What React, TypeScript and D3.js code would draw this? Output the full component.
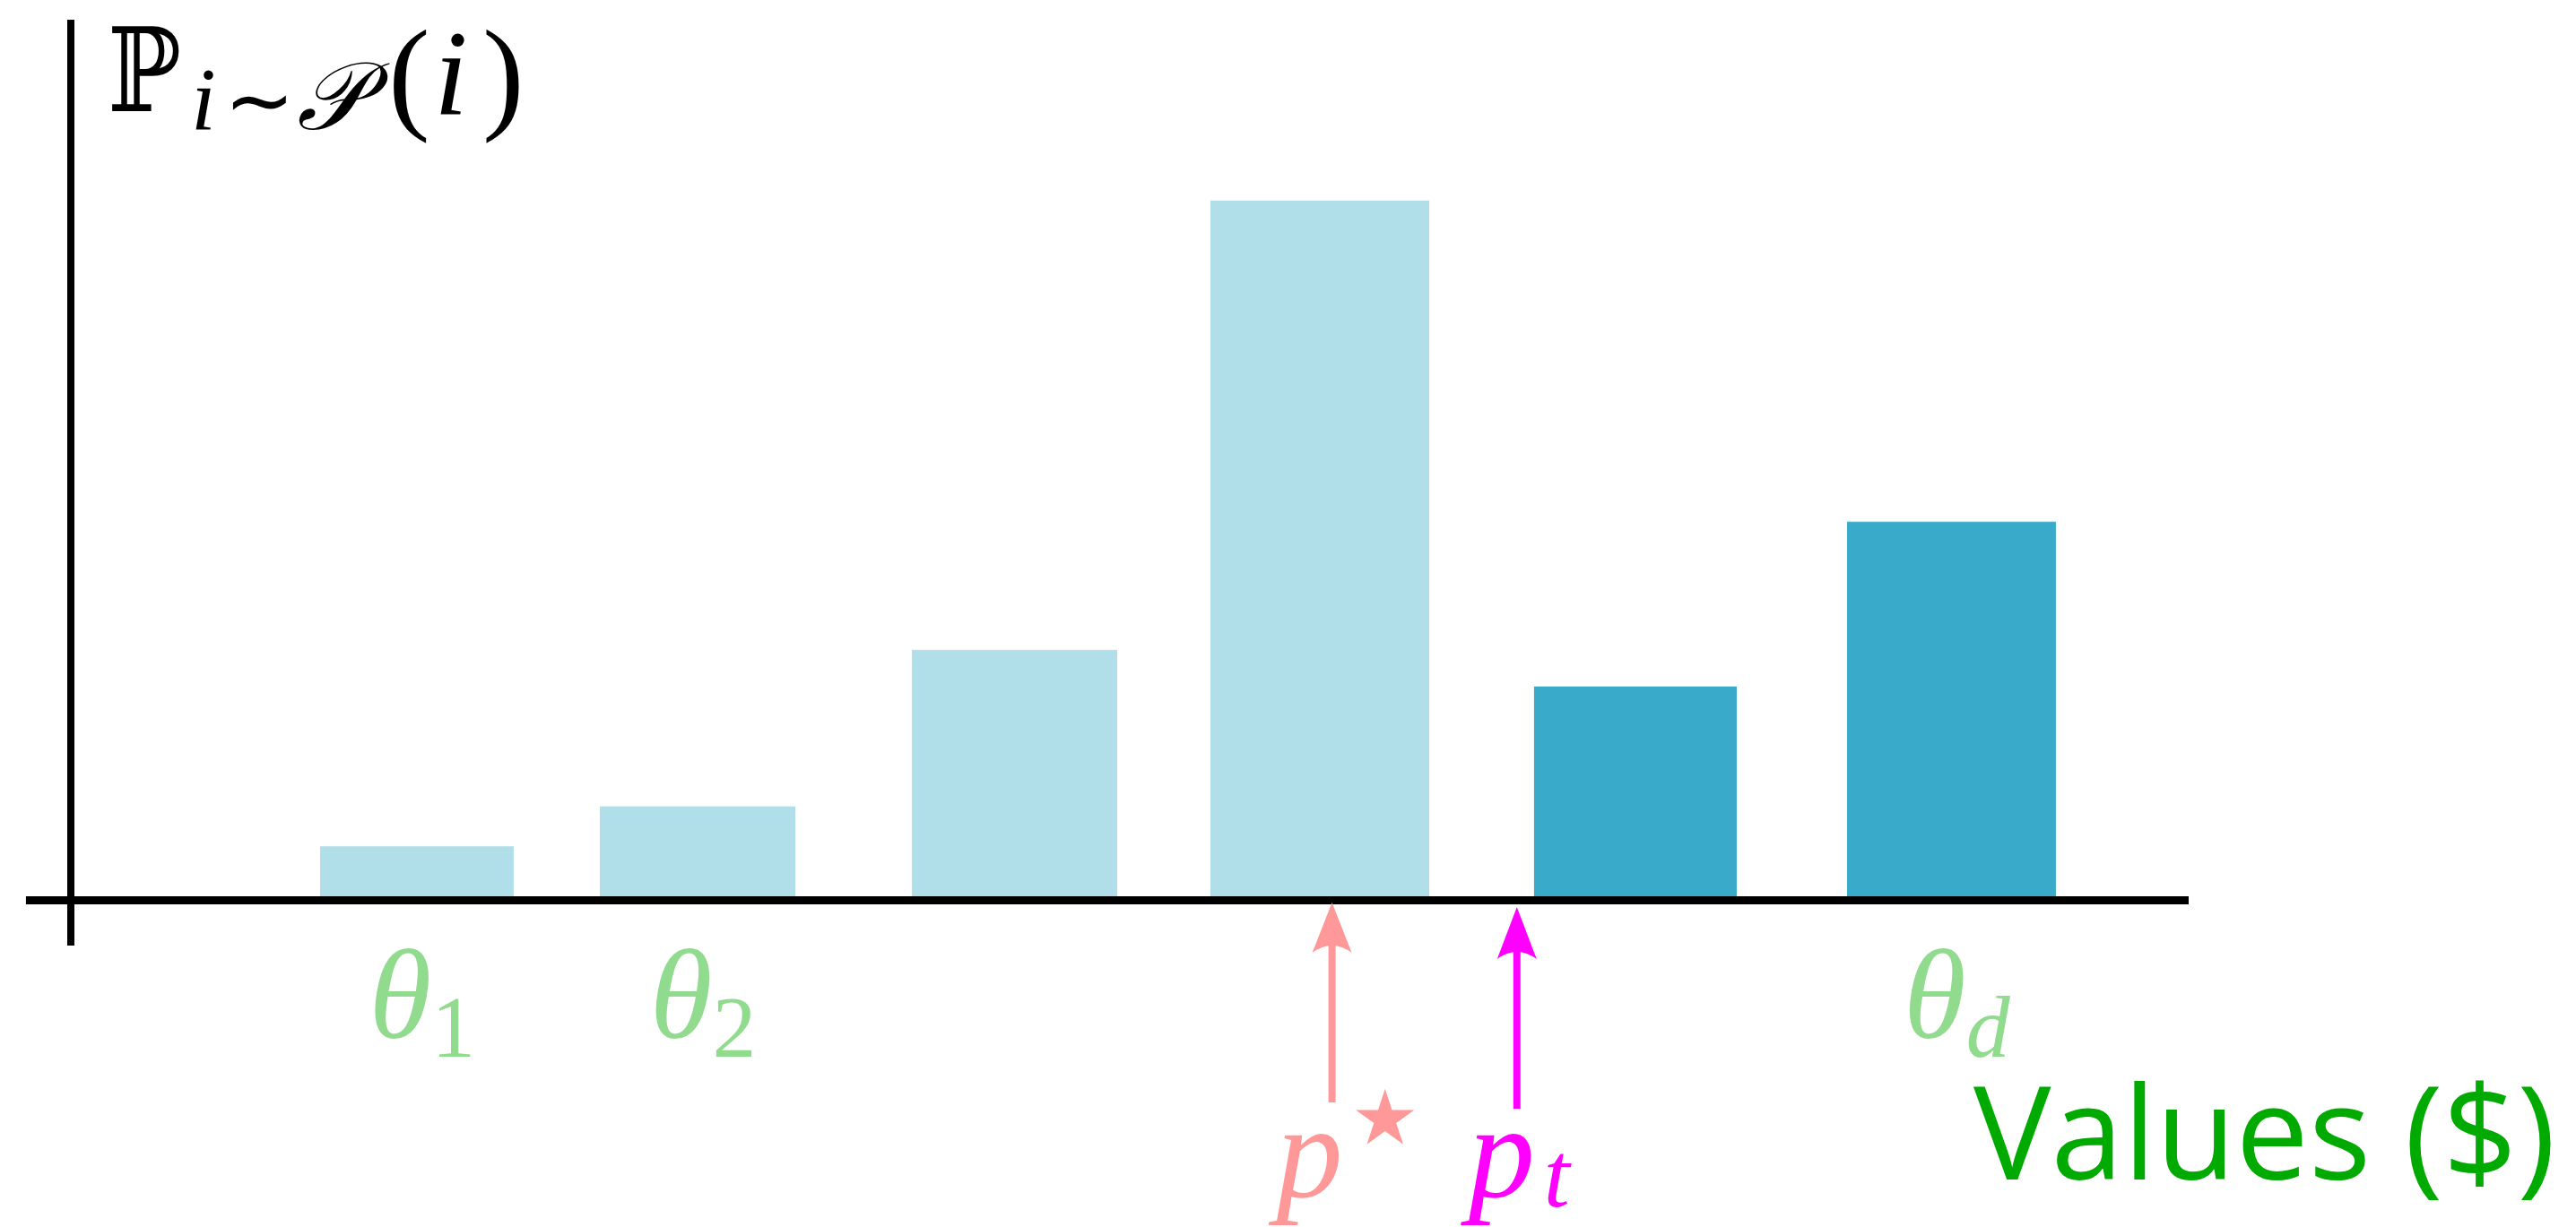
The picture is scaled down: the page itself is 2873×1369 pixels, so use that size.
import React from 'react';
import * as d3 from 'd3';

// ---- data (x in value units, heights as probabilities) ----
const barStart = [11.77, 24.98, 39.71, 53.81, 69.09, 83.87];
const barEnd = [20.91, 34.21, 49.41, 64.14, 78.66, 93.73];
const barProb = [0.030, 0.054, 0.148, 0.418, 0.126, 0.225];
const barGroup = ['below', 'below', 'below', 'below', 'above', 'above'];
const thetaSubs: (string | null)[] = ['1', '2', null, null, null, 'd'];
const pStarValue = 59.55;
const pTValue = 68.28;
const xAxisStartValue = -2.12;

const W = 2873;
const H = 1369;
const LIGHT = '#B0DEE9';
const DARK = '#39AAC9';
const THETA = '#91DB8E';
const PSTAR = '#FF9999';
const PT = '#FF00FF';
const SERIF = "'Liberation Serif', 'DejaVu Serif', serif";

export default function App() {
  const x = d3.scaleLinear().domain([0, 100]).range([79, 2441]);
  const y = d3.scaleLinear().domain([0, 0.5]).range([1000, 71.5]);
  const y0 = y(0);

  const arrowHead = (cx: number, tip: number, base: number, hw: number) => {
    const p = d3.path();
    p.moveTo(cx, tip);
    p.lineTo(cx + hw, base);
    p.quadraticCurveTo(cx, base - 16, cx - hw, base);
    p.closePath();
    return p.toString();
  };

  const arrows = [
    { v: pStarValue, color: PSTAR, tip: y0 + 7, base: y0 + 63, end: y0 + 230 },
    { v: pTValue, color: PT, tip: y0 + 12, base: y0 + 70, end: y0 + 237 },
  ];

  const labelBase = 128;
  const subBase = 144;

  return (
    <svg width={W} height={H} style={{ position: 'absolute', left: 0, top: 0, background: '#fff' }}>
      <rect x={0} y={0} width={W} height={H} fill="#fff" />
      {/* bars */}
      {barStart.map((s, i) => (
        <rect
          key={i}
          x={x(s)}
          y={y(barProb[i])}
          width={x(barEnd[i]) - x(s)}
          height={y0 - y(barProb[i])}
          fill={barGroup[i] === 'above' ? DARK : LIGHT}
        />
      ))}
      {/* axes */}
      <line x1={x(0)} x2={x(0)} y1={22} y2={1055} stroke="#000" strokeWidth={8} />
      <line x1={x(xAxisStartValue)} x2={x(100)} y1={y0 + 4.5} y2={y0 + 4.5} stroke="#000" strokeWidth={9} />

      {/* y label: P_{i~P}(i) */}
      <g fill="#000">
        <text x={120} y={labelBase - 4} fontFamily="'DejaVu Serif', serif" fontSize={130}
          textLength={82} lengthAdjust="spacingAndGlyphs">ℙ</text>
        <text x={213} y={subBase} fontFamily={SERIF} fontStyle="italic" fontSize={100}>i</text>
        <text x={250} y={subBase} fontFamily="'DejaVu Sans', sans-serif" fontSize={94}>∼</text>
        <text x={331} y={subBase} fontFamily={SERIF} fontStyle="italic" fontSize={106}>𝒫</text>
        <text x={433} y={labelBase + 2} fontFamily={SERIF} fontSize={140}>(</text>
        <text x={484} y={labelBase} fontFamily={SERIF} fontStyle="italic" fontSize={136}>i</text>
        <text x={538} y={labelBase + 2} fontFamily={SERIF} fontSize={140}>)</text>
      </g>

      {/* theta labels */}
      {thetaSubs.map((sub, i) =>
        sub === null ? null : (
          <text
            key={'t' + i}
            x={(x(barStart[i]) + x(barEnd[i])) / 2 + 6}
            y={1158}
            textAnchor="middle"
            fill={THETA}
            fontFamily={SERIF}
          >
            <tspan fontStyle="italic" fontSize={142}>θ</tspan>
            <tspan dy={21} fontSize={98} fontStyle={sub === 'd' ? 'italic' : 'normal'}>{sub}</tspan>
          </text>
        )
      )}

      {/* arrows */}
      {arrows.map((a, i) => (
        <g key={'a' + i}>
          <line x1={x(a.v)} x2={x(a.v)} y1={a.base - 8} y2={a.end} stroke={a.color} strokeWidth={8} />
          <path d={arrowHead(x(a.v), a.tip, a.base, 22)} fill={a.color} />
        </g>
      ))}

      {/* p* label */}
      <text x={x(pStarValue) - 62} y={1335} fill={PSTAR} fontFamily={SERIF} fontStyle="italic" fontSize={148}>p</text>
      <text x={x(pStarValue) + 6} y={1302} fill={PSTAR} fontFamily="'DejaVu Sans', sans-serif" fontSize={170}>⋆</text>
      {/* p_t label */}
      <text x={x(pTValue) - 54} y={1335} fill={PT} fontFamily={SERIF} fontStyle="italic" fontSize={148}>p</text>
      <text x={x(pTValue) + 30} y={1346} fill={PT} fontFamily={SERIF} fontStyle="italic" fontSize={104}>t</text>

      {/* x label */}
      <text x={2201} y={1316} fill="#00AA00" fontFamily="'Open Sans', 'Noto Sans', sans-serif" fontSize={145}>
        Values ($)
      </text>
    </svg>
  );
}
